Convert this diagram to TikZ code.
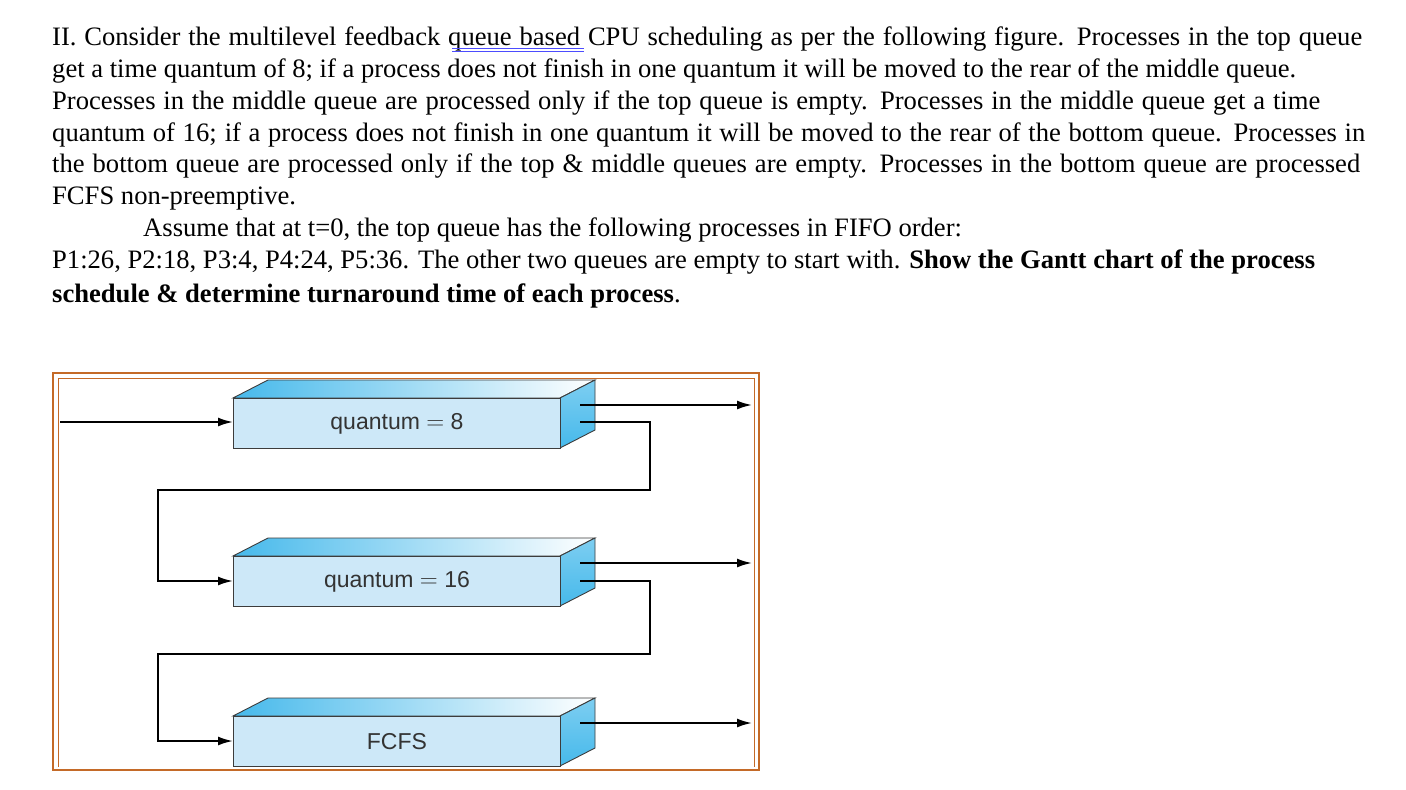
\documentclass[tikz,border=0pt]{standalone}
\usepackage{fontspec}
\setmainfont{Liberation Serif}
\newfontfamily\boxfont{Liberation Sans}
\usetikzlibrary{arrows.meta}
\definecolor{frameor}{RGB}{196,106,40}
\definecolor{frontc}{RGB}{205,232,248}
\definecolor{topc}{RGB}{70,185,235}
\definecolor{edgec}{RGB}{60,60,60}
\begin{document}
\begin{tikzpicture}[x=1pt,y=-1pt,
  txt/.style={anchor=base west,inner sep=0,font=\fontsize{26.6}{30}\selectfont},
  lbl/.style={font=\boxfont\fontsize{23}{26}\selectfont,text=black!80},
  conn/.style={line width=2pt,-{Latex[length=15pt,width=9pt]}}]
\useasboundingbox (0,0) rectangle (1406,790);
% text
\node[txt] (l1) at (52,45) {\makebox[1310pt][s]{II. Consider the multilevel feedback queue based CPU scheduling as per the following figure. Processes in the top queue}};
\node[txt] (l2) at (52,77) {get a time quantum of 8; if a process does not finish in one quantum it will be moved to the rear of the middle queue.};
\node[txt] (l3) at (52,109) {\makebox[1268pt][s]{Processes in the middle queue are processed only if the top queue is empty. Processes in the middle queue get a time}};
\node[txt] (l4) at (52,141) {\makebox[1313pt][s]{quantum of 16; if a process does not finish in one quantum it will be moved to the rear of the bottom queue. Processes in}};
\node[txt] (l5) at (52,172) {\makebox[1308pt][s]{the bottom queue are processed only if the top \& middle queues are empty. Processes in the bottom queue are processed}};
\node[txt] (l6) at (52,204) {FCFS non-preemptive.};
\node[txt] (l7) at (143,236) {Assume that at t=0, the top queue has the following processes in FIFO order:};
\node[txt] (l8) at (52,268) {P1:26, P2:18, P3:4, P4:24, P5:36. The other two queues are empty to start with. \textbf{Show the Gantt chart of the process}};
\node[txt] (l9) at (52,302) {\textbf{schedule \& determine turnaround time of each process}.};
\draw[blue!70,line width=1pt] (452,48) -- (584,48);
\draw[blue!70,line width=1pt] (452,51) -- (584,51);
% frame
\draw[frameor,line width=1.8pt] (53,770) -- (53,373) -- (759,373) -- (759,770) -- cycle;
\draw[frameor,line width=0.9pt] (58,767) -- (58,378) -- (754,378) -- (754,767);
% boxes
\foreach \n/\y/\t in {a/398/{quantum $=$ 8},b/556/{quantum $=$ 16},c/716/{FCFS}}{
  \shade[left color=topc,right color=white,draw=edgec,line width=0.9pt]
    (233,\y) -- (268,\y-18) -- (595,\y-18) -- (560,\y) -- cycle;
  \shade[top color=white!30!topc,bottom color=topc,draw=edgec,line width=0.9pt]
    (560,\y) -- (595,\y-18) -- (595,\y+32) -- (560,\y+50) -- cycle;
  \node[draw=edgec,fill=frontc,line width=0.9pt,minimum width=327pt,minimum height=50pt,anchor=north west,inner sep=0,lbl] (\n) at (233,\y) {\t};
}
\coordinate (ina) at (60,422);
\foreach \n/\y in {a/398,b/556,c/716}{
  \coordinate (o\n) at (580,\y+7);
  \coordinate (e\n) at (752,\y+7);
}
\coordinate (ra) at (580,422);
\coordinate (rb) at (580,581);
\draw[conn] (ina) -- (a.west |- ina);
\draw[conn] (oa) -- (ea);
\draw[conn] (ob) -- (eb);
\draw[conn] (oc) -- (ec);
\draw[conn] (ra) -- (650,422) -- (650,490) -- (158,490) -- (158,581) -- (b.west |- rb);
\draw[conn] (rb) -- (650,581) -- (650,654) -- (158,654) -- (158,741) -- (c.west |- 0,741);
\end{tikzpicture}
\end{document}
